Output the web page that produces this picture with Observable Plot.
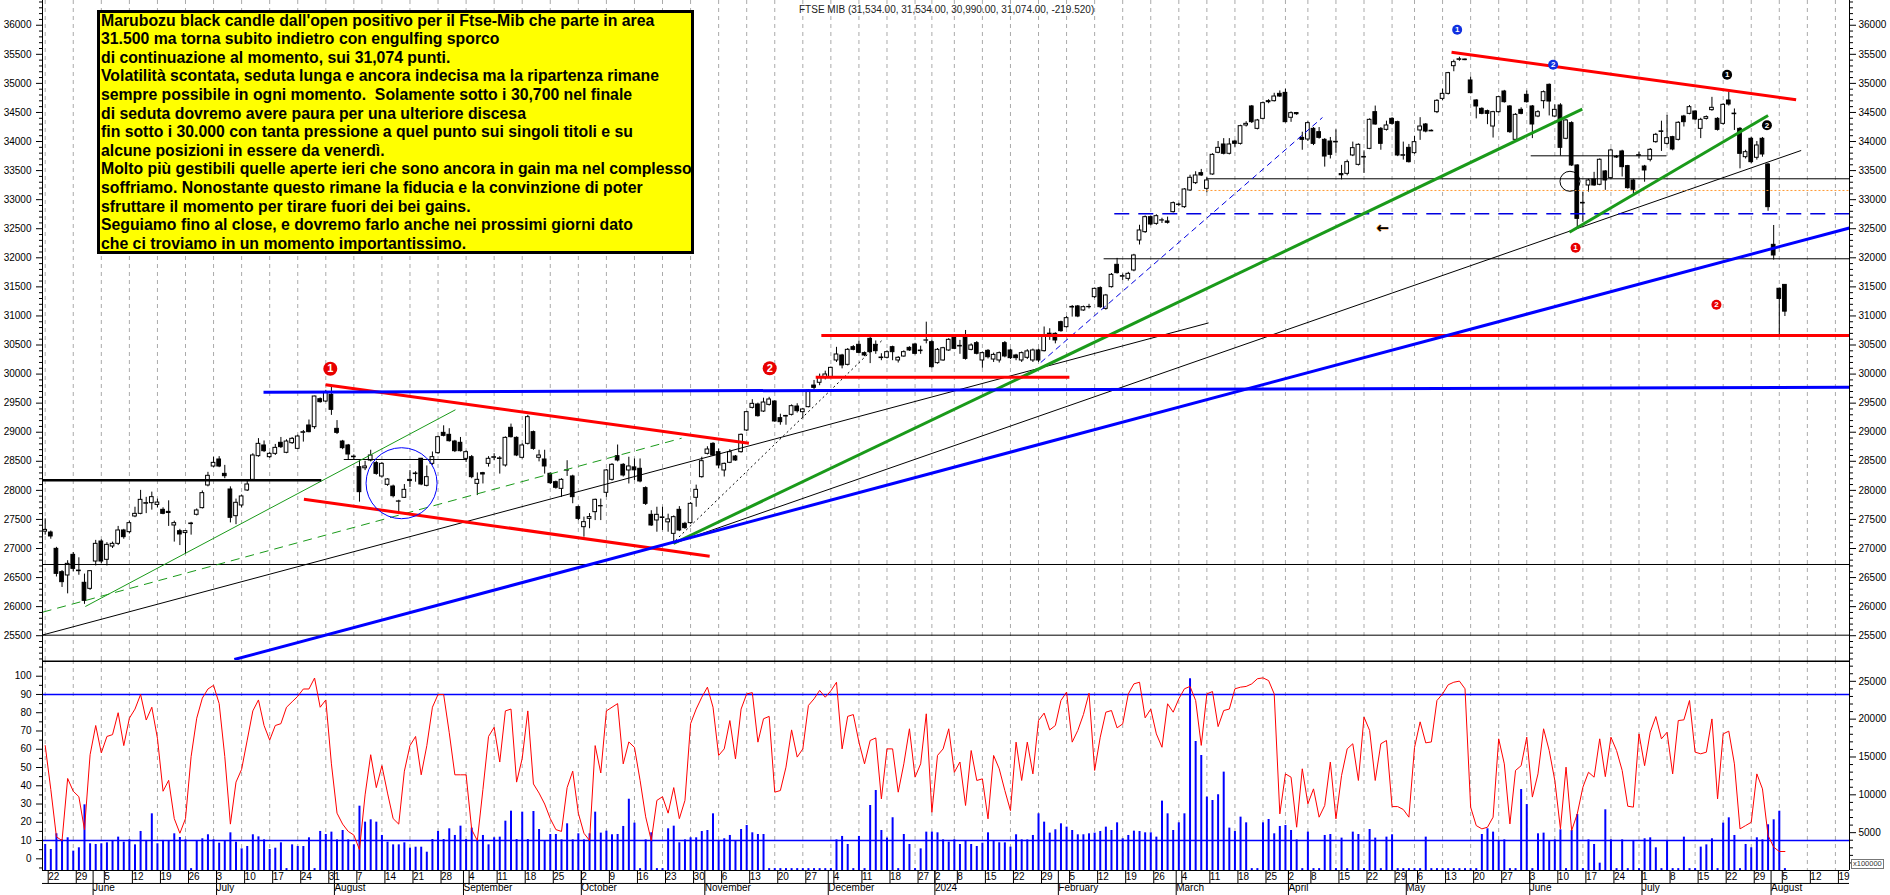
<!DOCTYPE html>
<html><head><meta charset="utf-8">
<script src="https://cdn.jsdelivr.net/npm/d3@7"></script>
<script src="https://cdn.jsdelivr.net/npm/@observablehq/plot@0.6"></script>
<style>
html,body{margin:0;padding:0;background:#fff;}
#wrap{position:relative;width:1890px;height:895px;overflow:hidden;font-family:"Liberation Sans",Arial,sans-serif;}
#wrap svg{position:absolute;left:0;overflow:visible;}
#note{position:absolute;left:97px;top:10px;width:597px;height:244px;box-sizing:border-box;background:#ffff00;border:3px solid #000;}
#noteText{position:absolute;left:101px;top:11.6px;font-weight:bold;font-size:15.8px;line-height:18.6px;font-family:"Liberation Sans",Arial,sans-serif;color:#000;white-space:pre;}
#title{position:absolute;left:799px;top:3.5px;font-size:10px;font-family:"Liberation Sans",Arial,sans-serif;color:#222;white-space:pre;}
#unit{position:absolute;left:1851px;top:859px;font-size:7.5px;line-height:8px;font-family:"Liberation Sans",Arial,sans-serif;color:#333;border:1px solid #777;padding:0 1px;background:#fff;}
</style></head>
<body><div id="wrap"></div>
<script>
// ---------------- DATA ----------------
const firstDay = "2023-05-22";
const lastAxisDay = "2024-08-23";
const holidays = ["2023-12-25","2023-12-26","2024-01-01","2024-03-29","2024-04-01","2024-05-01"];
const monthNames = ["2024","February","March","April","May","June","July","August","September","October","November","December"];

const opens = [
27290,27275,26994,26593,26536,26891,26620,26410,26306,26776,
27120,26805,27034,27080,27310,27281,27551,27596,27770,27780,
27750,27665,27630,27396,27298,27265,27420,27580,27694,28084,
28410,28531,28284,28015,27556,27740,27998,28181,28588,28772,
28571,28628,28818,28646,28812,28714,28990,29116,29087,29568,
29528,29643,29058,28840,28772,28580,28399,28380,28513,28468,
28238,28095,28066,27805,27872,28180,28280,28543,28078,28456,
28640,28989,28955,28840,28818,28542,28571,28112,28296,28456,
28560,28540,28428,29076,28903,28560,28800,29001,28560,28531,
28285,28141,28026,28340,28239,27711,27367,27510,27625,27725,
27958,28181,28588,28439,28342,28395,28371,28038,27579,27482,
27525,27450,27252,27665,27424,27436,27872,28227,28628,28800,
28657,28342,28474,28582,28657,29030,29419,29477,29356,29471,
29528,29242,29280,29299,29442,29345,29431,29803,29850,29935,
29947,30234,30320,30159,30463,30503,30360,30606,30503,30285,
30280,30463,30234,30302,30451,30509,30405,30575,30549,30188,
30234,30406,30623,30485,30623,30417,30532,30234,30400,30250,
30234,30532,30406,30320,30234,30280,30234,30406,30394,30690,
30692,30893,30807,31145,31163,31094,31150,31323,31478,31122,
31495,31879,31675,31638,31782,32298,32441,32699,32584,32640,
32625,32785,32910,32871,33158,33284,33456,33186,33433,33806,
33949,33789,34000,33960,34276,34603,34218,34390,34694,34694,
34820,34837,34408,34490,34063,34035,34218,34161,34029,34000,
33985,33440,33444,33760,33599,33725,33874,34505,34218,34201,
34390,34333,33755,33891,33800,34190,34293,34175,34505,34734,
34820,35296,35405,35400,35050,34706,34562,34522,34258,34505,
34860,34603,34029,34545,34803,34603,34430,34694,34975,34430,
34620,34047,34316,33588,32935,33244,33347,33256,33485,33370,
33725,33829,33577,33330,33755,33570,33686,33989,34165,33960,
34075,34029,34430,34476,34516,34218,34390,34540,34390,34304,
34706,34470,34218,33731,34047,33720,34047,33605,32223,31467,
31534];
const highs = [
27510,27300,27020,26620,26790,26930,26840,26560,26620,27140,
27150,27100,27110,27380,27330,27470,27710,28000,27880,27970,
27850,27700,27820,27470,27330,27310,27450,27680,27990,28310,
28570,28580,28430,28060,27850,27920,28160,28630,28890,28850,
28650,28790,28910,28870,28910,28950,29030,29210,29620,29590,
29720,29800,29200,28860,28790,28610,28510,28500,28690,28500,
28480,28200,28090,27830,28100,28340,28320,28550,28420,28660,
28930,29110,29060,28860,28910,28680,28600,28300,28310,28580,
28630,28580,28920,29140,28920,28800,29290,29020,28690,28690,
28300,28160,28200,28510,28260,27730,27540,27600,27850,27850,
28360,28460,28780,28460,28570,28540,28540,28060,27650,27710,
27710,27590,27560,27720,27450,27790,28090,28570,28750,28820,
28710,28470,28700,28600,28970,29360,29560,29500,29585,29600,
29540,29310,29290,29470,29490,29410,29730,29890,30000,30050,
30120,30460,30340,30440,30490,30570,30380,30645,30570,30350,
30400,30480,30300,30400,30470,30530,30480,30893,30580,30440,
30460,30610,30680,30580,30750,30520,30560,30380,30420,30360,
30380,30560,30430,30340,30380,30420,30430,30430,30810,30780,
30710,30910,30990,31180,31180,31170,31200,31480,31500,31370,
31730,31990,31720,31750,32060,32560,32720,32720,32740,32680,
32700,32960,32940,33190,33420,33480,33520,33380,33790,34000,
34050,34050,34020,34280,34340,34620,34380,34680,34720,34830,
34870,34900,34510,34500,34160,34340,34240,34240,34050,34070,
34200,33590,33680,33990,33960,33840,34390,34610,34240,34350,
34410,34350,33990,33950,34090,34410,34310,34200,34720,34900,
35190,35400,35450,35420,35110,34720,34580,34540,34520,34780,
34880,34620,34480,34580,34870,34620,34530,34870,34990,34630,
34650,34380,34340,33600,33130,33350,33470,33700,33500,33870,
33760,33850,33590,33350,33820,33590,33880,34140,34350,34450,
34090,34340,34450,34620,34530,34400,34440,34760,34410,34650,
34850,34560,34240,33850,34070,34000,34070,33620,32556,31480,
31534];
const lows = [
27230,27160,26510,26330,26220,26600,26540,26040,26280,26700,
26740,26700,27000,27050,27160,27250,27530,27580,27600,27660,
27700,27580,27380,27110,27050,26900,27230,27560,27680,28060,
28390,28390,28200,27440,27410,27700,27980,28160,28570,28650,
28550,28600,28720,28630,28790,28700,28830,28990,29050,29500,
29510,29290,28960,28700,28525,28520,27797,28340,28490,28260,
28210,28070,27870,27597,27860,28050,28140,28080,28060,28430,
28620,28920,28830,28650,28660,28480,28200,27910,28110,28400,
28510,28280,28400,28900,28580,28540,28780,28690,28490,28280,
28100,28020,27880,28240,27770,27480,27195,27340,27480,27480,
27880,28160,28490,28230,28110,28170,28130,27740,27380,27280,
27310,27280,27109,27290,27330,27420,27710,28210,28610,28580,
28370,28230,28460,28500,28640,29010,29400,29260,29340,29450,
29170,29120,29120,29280,29330,29230,29420,29690,29800,29900,
29930,30200,30090,30140,30400,30350,30300,30180,30340,30230,
30260,30230,30190,30290,30390,30330,30340,30520,30100,30170,
30220,30390,30420,30340,30240,30400,30330,30100,30260,30200,
30190,30280,30250,30230,30200,30250,30200,30200,30380,30580,
30520,30720,30790,30980,30970,31080,31120,31300,31130,31100,
31480,31720,31610,31600,31760,32220,32420,32550,32560,32590,
32580,32770,32880,32850,33140,33260,33400,33120,33420,33790,
33770,33770,33900,33940,34250,34310,34200,34370,34650,34680,
34760,34320,34330,34450,33850,34000,33930,34040,33560,33700,
33800,33340,33410,33740,33580,33450,33860,34280,33850,34180,
34280,33740,33680,33630,33780,34020,34150,34170,34480,34700,
34800,35200,35380,35390,34820,34390,34460,34290,34060,34490,
34660,34140,34010,34460,34660,34050,34410,34560,34440,34410,
33750,34030,33570,32498,32610,33130,33230,33240,33160,33350,
33710,33390,33180,33100,33700,33300,33650,33970,33830,33940,
33840,34010,34250,34460,34360,34050,34370,34520,34180,34280,
34610,34190,33530,33700,33620,33680,33730,32800,31960,30680,
30990];
const closes = [
27320,27207,26564,26421,26736,26650,26610,26100,26610,27080,
26776,27063,27080,27310,27195,27436,27596,27837,27780,27883,
27790,27596,27610,27436,27241,27298,27430,27654,27952,28250,
28473,28410,28244,27528,27786,27895,28101,28600,28800,28674,
28628,28731,28743,28840,28886,28926,29000,29001,29614,29517,
29683,29385,28989,28726,28617,28570,27969,28410,28600,28284,
28456,28187,27900,27810,28009,28160,28290,28101,28227,28571,
28915,28938,28846,28674,28674,28657,28227,28181,28273,28543,
28570,28550,28903,28915,28600,28772,29259,28714,28600,28411,
28124,28044,28181,28345,27883,27510,27453,27540,27837,27730,
28342,28439,28514,28256,28411,28345,28153,27768,27396,27579,
27535,27500,27539,27310,27350,27768,28009,28502,28703,28600,
28428,28456,28657,28514,28955,29345,29488,29276,29511,29563,
29185,29173,29270,29448,29362,29391,29718,29763,29947,29993,
30107,30337,30148,30417,30417,30365,30320,30377,30394,30275,
30377,30377,30280,30377,30406,30348,30395,30580,30119,30417,
30445,30589,30434,30475,30262,30492,30349,30360,30290,30330,
30360,30303,30274,30274,30360,30390,30406,30234,30647,30695,
30578,30738,30962,31155,30990,31151,31155,31466,31151,31352,
31707,31736,31685,31724,32040,32470,32699,32573,32716,32645,
32602,32940,32915,33175,33376,33416,33416,33330,33771,33891,
33789,33949,33960,34264,34304,34333,34362,34660,34677,34774,
34774,34333,34488,34470,34029,34316,33960,34063,33742,33771,
33995,33420,33645,33886,33943,33735,34373,34293,33960,34276,
34304,33760,33765,33645,33989,34258,34172,34185,34700,34820,
35176,35365,35415,35410,34832,34603,34476,34476,34505,34763,
34677,34161,34459,34476,34677,34293,34505,34849,34688,34545,
33892,34362,33588,32670,32945,33330,33244,33686,33330,33846,
33735,33559,33198,33170,33765,33502,33857,34115,34175,34058,
33863,34322,34333,34591,34379,34373,34420,34580,34201,34631,
34637,34480,33788,33817,33645,33932,33777,32871,32040,31293,
31074];
const oscillator = [
62,38,12,10,44,37,34,16,57,73, 58,67,68,80,62,77,82,90,76,83,
66,37,43,22,14,22,56,77,88,93, 95,85,56,19,42,49,65,81,87,73,
65,73,74,83,86,89,93,93,99,83, 87,52,25,19,15,13,5,35,57,39,
51,36,22,19,48,62,67,46,62,83, 90,90,69,46,46,46,16,10,38,67,
72,53,81,82,42,
55,81,41,36,30,22,16,15,39,48, 25,14,10,62,47,81,83,85,52,64,
61,43,23,10,32,34,25,39,22,32, 74,82,
88.5,94,83,56.6,60.2,75.7,54.7,82,90.3,91, 63.9,76.7,78,36.5,37.4,50.2,70.6,55.7,60.2,84,
87.6,92.2,88.5,92,96.7,60.2,78,79,63.9,52, 64.8,66.2,32.8,60.2,60.2,36.5,52,71.2,44.7,52,
79.4,25.5,56.6,60.2,71.2,47.4,53,29.2,59.3,42.9, 43.8,21.9,56.6,49.3,37.4,26.4,63.9,42.9,63.9,46.5,
75.7,79.8,70.6,73,86.7,91.3,63.9,70.3,79,90.7, 48.4,66.6,80.3,81.2,71.7,73.9,90.3,95.8,96.7,77.2,
82,68.4,61.1,84.9,80.3,87.6,93.1,94.4,86.7,62.1, 90.3,91.6,72.4,81.2,82,93.1,94,94.4,95.8,98.6,
99.1,97.6,90.3,24.6,46.5,44.7,17.3,49.3,30.1,38.3, 22.8,29.2,53,21.9,45.6,60.2,63,42.9,77.6,70.3,
42.9,63,64.8,28.6,28.6,
27,22.8,61,75,63.5,64,86.7,90.3,95.3,96.7, 97.3,93.1,28.3,18.2,16.4,17.3,22.8,65.7,52,19.1,
48.4,51,66.6,33.8,46.5,71.2,59.3,42.9,16.4,50.2, 15.5,24.6,39.2,47.4,44.7,65.7,45,66.6,59.3,48.4,
28.8,28.3,68.4,51,69.3,77.9,65.7,69.3,46.5,75.7, 76.1,86.7,58.4,57.5,58.4,76.6,32.8,68.4,69.9,52,
16.4,18.2,20,46.5,38.3,12.8,6.4,4,4];
const volumes = [
3440,2780,4850,4050,4320,2560,3000,8680,3530,3440, 3530,3660,3970,4410,3750,4050,3390,5160,3970,7490,
3530,3970,3880,4850,4360,4050,250,3880,4190,4720, 4050,3610,3880,4980,3750,2860,3170,4720,4450,4050,
2780,2950,3660,250,3390,3170,3170,4320,250,5160, 4760,5070,4050,5290,4050,3390,8500,6390,6700,6390,
4630,3750,3390,3390,3660,2950,3080,3080,2420,4100, 5160,4100,5510,4630,5860,4100,5600,3970,4630,3390,
4320,4410,6520,7840,4100,
7710,4100,7800,5420,3880,4760,4760,4050,6170,4050, 4850,4050,4850,7710,4940,5200,4720,4760,5820,9420,
6260,250,4050,4980,250,250,5510,5860,3660,4050, 4320,4320,
5150,5290,7490,3830,4190,4630,3880,5420,5950,4980,4760,4760,
250,250,250,250,250,250,250,250,250,250,250,250,
4050,4500,3440,250,4500,250,8590,10570,5290,4280, 6970,250,4760,3440,250,2860,5070,5070,4980,4050,
3750,4050,3440,3880,3440,3170,3610,4980,3880,3660, 3660,3090,4720,4050,4050,4630,7490,6390,4940,5380,
6170,5730,5290,4720,4720,4850,4940,5150,5730,5290, 6300,4190,4630,5200,5150,4980,4980,4410,9170,7490,
5290,6300,7490,25340,17050,15200,9700,9250,10010,13000, 5600,5150,7050,6300,250,250,6300,6740,4850,5820,
5950,5290,4050,250,5070,250,250,4630,4760,250, 4280,250,5070,4760,250,5420,4280,250,4410,4720,
250,
250,250,250,250,4410,250,250,250,250,250, 250,250,250,250,4760,5510,5070,3830,4050,250,
250,10700,8710,250,4850,4940,3830,4050,5380,250, 5290,7400,250,4050,3440,970,8020,4050,250,4050,
250,3970,250,4190,4320,3000,250,3970,250,250, 4410,250,250,3090,3390,4190,250,6260,6960,4630,
250,3440,3000,4320,4050,6040,6700,7840,250];

// trend lines: [startIndex, startPrice, endIndex, endPrice]
const blackThickLines = [[-0.48, 28175, 49.2, 28175]];
const blueThickLines = [[38.9, 29688, 321.5, 29775], [33.7, 25091, 321.5, 32513]];
const redThickLines = [[49.95, 29816, 125.4, 28811], [46.1, 27848, 118.4, 26867], [250.6, 35536, 312.0, 34718],
  [138.3, 30664, 321.5, 30664], [137.3, 29946, 182.5, 29946]];
const greenThickLines = [[111.96, 27086, 273.9, 34558], [271.6, 32440, 307.0, 34448]];
const greenThinLines = [[7.15, 26002, 73.1, 29386]];
const greenDashedLines = [[-0.45, 25905, 113.4, 28897]];
const blackThinLines = [[-0.48, 25512, 207.3, 30880], [111.96, 27086, 312.9, 33846], [-0.48, 26725, 321.5, 26725],
  [-0.48, 25509, 321.5, 25509], [188.6, 31983, 321.5, 31983], [206.9, 33359, 321.5, 33359],
  [264.7, 33754, 288.9, 33754], [53.2, 28531, 75.2, 28531]];
const orangeDottedLines = [[205.5, 33158, 321.5, 33158]];
const blueDashedLines = [[190.5, 32757, 321.5, 32757]];
const blueThinDashedLines = [[177.4, 30199, 227.6, 34413]];
const blackDottedLines = [[112.3, 27138, 149.1, 30578]];
const blueCircle = [[63.5, 28123]];
const blackCircle = [[271.7, 33316]];
const arrowMark = [[238.3, 32509]];
const markersRedBig = [[50.8, 30091, "1"], [129.1, 30101, "2"]];
const markersBlue = [[251.6, 35922, "1"], [268.7, 35320, "2"]];
const markersBlack = [[299.7, 35148, "1"], [306.8, 34281, "2"]];
const markersRedSmall = [[272.7, 32172, "1"], [297.8, 31192, "2"]];

const priceTicks = d3.range(25500, 36001, 500);
const priceMinor = d3.range(25100, 36401, 100).filter(v => v % 500 !== 0);
const oscTicks = d3.range(0, 101, 10);
const oscMinor = d3.range(-5, 106, 5).filter(v => v % 10 !== 0);
const volTicks = [5000, 10000, 15000, 20000, 25000];
const volMinor = d3.range(1000, 27001, 1000).filter(v => v % 5000 !== 0);
const titleText = "FTSE MIB (31,534.00, 31,534.00, 30,990.00, 31,074.00, -219.520)";
const noteLines = [
"Marubozu black candle dall'open positivo per il Ftse-Mib che parte in area",
"31.500 ma torna subito indietro con engulfing sporco",
"di continuazione al momento, sui 31,074 punti.",
"Volatilità scontata, seduta lunga e ancora indecisa ma la ripartenza rimane",
"sempre possibile in ogni momento.  Solamente sotto i 30,700 nel finale",
"di seduta dovremo avere paura per una ulteriore discesa",
"fin sotto i 30.000 con tanta pressione a quel punto sui singoli titoli e su",
"alcune posizioni in essere da venerdì.",
"Molto più gestibili quelle aperte ieri che sono ancora in gain ma nel complesso",
"soffriamo. Nonostante questo rimane la fiducia e la convinzione di poter",
"sfruttare il momento per tirare fuori dei bei gains.",
"Seguiamo fino al close, e dovremo farlo anche nei prossimi giorni dato",
"che ci troviamo in un momento importantissimo."];

// ---------------- CALENDAR (trading days) ----------------
const days = [];
for (let t = Date.parse(firstDay + "T00:00:00Z"); t <= Date.parse(lastAxisDay + "T00:00:00Z"); t += 86400000) {
  const d = new Date(t); const wd = d.getUTCDay();
  if (wd === 0 || wd === 6) continue;
  if (holidays.includes(d.toISOString().slice(0, 10))) continue;
  days.push(d);
}
const xDomain = [-0.481, 321.51];
const weekKey = d => Math.floor((d.getTime() - Date.UTC(2023, 4, 22)) / (7 * 86400000));
const weekStarts = days.map((d, i) => i).filter(i => i <= xDomain[1] && (i === 0 || weekKey(days[i]) !== weekKey(days[i - 1])));
const monthStarts = days.map((d, i) => i).filter(i => i > 0 && i <= xDomain[1] && days[i].getUTCMonth() !== days[i - 1].getUTCMonth());

// ---------------- SCALES HELPERS ----------------
const priceDomain = [25073.6, 36425.6];
const oscDomain = [-6.4, 108.6];
const volToOsc = v => oscDomain[0] + v * 0.004144;
const oscToVol = o => Math.round((o - oscDomain[0]) / 0.004144 / 1000) * 1000;

const candles = opens.map((o, i) => ({i, o, h: highs[i], l: lows[i], c: closes[i]}));
const seg = arr => arr.map(([x1, y1, x2, y2]) => ({x1, y1, x2, y2}));
const linkOpts = (stroke, strokeWidth, extra = {}) => ({x1: "x1", y1: "y1", x2: "x2", y2: "y2", stroke, strokeWidth, clip: true, ...extra});
const pt = arr => arr.map(([i, p, n]) => ({i, p, n}));

const font = '"Liberation Sans", Arial, sans-serif';
const gridColor = "#aaaaaa";

const topPlot = Plot.plot({
  width: 1890, height: 660, marginLeft: 42, marginRight: 41, marginTop: 0, marginBottom: 0,
  x: {type: "linear", domain: xDomain, axis: null},
  y: {type: "linear", domain: priceDomain, axis: null},
  style: {background: "transparent", fontFamily: font, fontSize: "10px", color: "#000", overflow: "visible"},
  marks: [
    Plot.ruleX(weekStarts, {x: d => d, stroke: gridColor, strokeDasharray: "4,4"}),
    Plot.axisY(priceTicks, {anchor: "left", tickSize: 6, tickPadding: 5, tickFormat: d => String(d), fontSize: 10}),
    Plot.axisY(priceMinor, {anchor: "left", tickSize: 3, tickFormat: () => ""}),
    Plot.axisY(priceTicks, {anchor: "right", tickSize: 6, tickPadding: 3, tickFormat: d => String(d), fontSize: 10}),
    Plot.axisY(priceMinor, {anchor: "right", tickSize: 3, tickFormat: () => ""}),
    // candles
    Plot.ruleX(candles, {x: "i", y1: "l", y2: "h", stroke: "#000", strokeWidth: 1}),
    Plot.rect(candles, {x1: d => d.i - 0.33, x2: d => d.i + 0.33, y1: d => Math.min(d.o, d.c), y2: d => Math.max(d.o, d.c),
      fill: d => d.c >= d.o ? "#ffffff" : "#000000", stroke: "#000", strokeWidth: 1}),
    // trend lines
    Plot.link(seg(blackThinLines), linkOpts("#000", 1)),
    Plot.link(seg(blackDottedLines), linkOpts("#000", 1, {strokeDasharray: "2,3"})),
    Plot.link(seg(greenThinLines), linkOpts("#1a9a1a", 1)),
    Plot.link(seg(greenDashedLines), linkOpts("#1a9a1a", 1, {strokeDasharray: "9,6"})),
    Plot.link(seg(orangeDottedLines), linkOpts("#ff9a33", 1, {strokeDasharray: "2,2"})),
    Plot.link(seg(blueDashedLines), linkOpts("#0000e0", 1.5, {strokeDasharray: "15,9"})),
    Plot.link(seg(blueThinDashedLines), linkOpts("#0000e0", 1, {strokeDasharray: "6,4"})),
    Plot.link(seg(blackThickLines), linkOpts("#000", 2.5)),
    Plot.link(seg(greenThickLines), linkOpts("#1a9a1a", 3)),
    Plot.link(seg(redThickLines), linkOpts("#ff0000", 3)),
    Plot.link(seg(blueThickLines), linkOpts("#0000ff", 3)),
    Plot.dot(pt(blueCircle), {x: "i", y: "p", r: 35.5, stroke: "#0000ff", strokeWidth: 1, fill: "none"}),
    Plot.dot(pt(blackCircle), {x: "i", y: "p", r: 10, stroke: "#000", strokeWidth: 1, fill: "none"}),
    Plot.text(pt(arrowMark), {x: "i", y: "p", text: () => "←", fontSize: 15, fontWeight: "bold", fontFamily: "DejaVu Sans", fill: "#000", stroke: "#ff9a33", strokeWidth: 0.8, paintOrder: "stroke"}),
    // numbered markers
    Plot.dot(pt(markersRedBig), {x: "i", y: "p", r: 7, fill: "#e80000"}),
    Plot.text(pt(markersRedBig), {x: "i", y: "p", text: "n", fill: "#fff", fontWeight: "bold", fontSize: 11}),
    Plot.dot(pt(markersRedSmall), {x: "i", y: "p", r: 5, fill: "#e80000"}),
    Plot.text(pt(markersRedSmall), {x: "i", y: "p", text: "n", fill: "#fff", fontWeight: "bold", fontSize: 8}),
    Plot.dot(pt(markersBlue), {x: "i", y: "p", r: 5, fill: "#1030e0"}),
    Plot.text(pt(markersBlue), {x: "i", y: "p", text: "n", fill: "#fff", fontWeight: "bold", fontSize: 8}),
    Plot.dot(pt(markersBlack), {x: "i", y: "p", r: 5, fill: "#000"}),
    Plot.text(pt(markersBlack), {x: "i", y: "p", text: "n", fill: "#fff", fontWeight: "bold", fontSize: 8}),
    // axis lines
    Plot.ruleX([xDomain[0], xDomain[1]], {stroke: "#000"})
  ]
});

const volIdx = d3.range(volumes.length);
const oscIdx = d3.range(oscillator.length);
const bottomPlot = Plot.plot({
  width: 1890, height: 235, marginLeft: 42, marginRight: 41, marginTop: 0, marginBottom: 25,
  x: {type: "linear", domain: xDomain, axis: null},
  y: {type: "linear", domain: oscDomain, axis: null},
  style: {background: "transparent", fontFamily: font, fontSize: "10px", color: "#000", overflow: "visible"},
  marks: [
    Plot.ruleX(weekStarts, {x: d => d, stroke: gridColor, strokeDasharray: "4,4"}),
    Plot.ruleX(volIdx, {x: i => i, y1: volToOsc(0), y2: i => volToOsc(volumes[i]), stroke: "#0000ff", strokeWidth: 2}),
    Plot.ruleY([10, 90], {stroke: "#0000ff", strokeWidth: 1.5}),
    Plot.line(oscIdx, {x: i => i, y: i => oscillator[i], stroke: "#ff0000", strokeWidth: 1}),
    Plot.axisY(oscTicks, {anchor: "left", tickSize: 6, tickPadding: 5, tickFormat: d => String(d), fontSize: 10}),
    Plot.axisY(oscMinor, {anchor: "left", tickSize: 3, tickFormat: () => ""}),
    Plot.axisY(volTicks.map(volToOsc), {anchor: "right", tickSize: 6, tickPadding: 3, tickFormat: d => String(oscToVol(d)), fontSize: 10}),
    Plot.axisY(volMinor.map(volToOsc), {anchor: "right", tickSize: 3, tickFormat: () => ""}),
    Plot.axisX(weekStarts, {anchor: "bottom", tickSize: 13, tickPadding: -11, textAnchor: "start", dx: 3,
      tickFormat: i => String(days[i].getUTCDate()), fontSize: 10}),
    Plot.axisX(monthStarts, {anchor: "bottom", tickSize: 25, tickPadding: -12, textAnchor: "start", dx: 3,
      tickFormat: i => monthNames[days[i].getUTCMonth()], fontSize: 10}),
    Plot.ruleY([oscDomain[0]], {stroke: "#000"}),
    Plot.ruleY([-13.5], {stroke: "#000"}),
    Plot.ruleY([oscDomain[1] - 0.4], {stroke: "#000", strokeWidth: 1.5}),
    Plot.ruleX([xDomain[0], xDomain[1]], {stroke: "#000"})
  ]
});

const wrap = document.getElementById("wrap");
topPlot.style.top = "0px";
bottomPlot.style.top = "660px";
wrap.appendChild(topPlot);
wrap.appendChild(bottomPlot);

const title = document.createElement("div");
title.id = "title"; title.textContent = titleText; wrap.appendChild(title);
const note = document.createElement("div");
note.id = "note"; wrap.appendChild(note);
const noteText = document.createElement("div");
noteText.id = "noteText"; noteText.textContent = noteLines.join("\n"); wrap.appendChild(noteText);
const unit = document.createElement("div");
unit.id = "unit"; unit.textContent = "x100000"; wrap.appendChild(unit);
</script>
</body></html>
